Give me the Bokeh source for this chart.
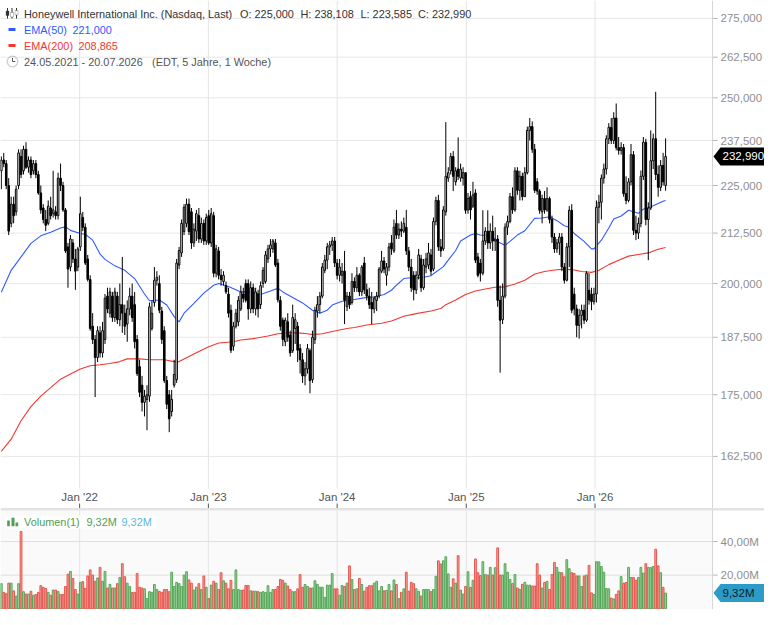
import math
import pandas as pd
from bokeh.plotting import figure
from bokeh.models import (Range1d, LinearScale, Label, BoxAnnotation, PolyAnnotation, Span,
                          ColumnDataSource)
from bokeh.embed import file_html
from bokeh.resources import INLINE

# ---------------------------------------------------------------- data
start_week = "2021-05-24"

opens = [
    229, 232, 231, 225, 215, 220, 218, 225, 233, 229,
    235, 230, 232, 229, 231, 228, 223, 219, 216, 215,
    219, 217.5, 218, 217, 227, 225, 218.5, 209, 204, 210,
    206, 204, 209, 216.5, 214, 206, 201, 190, 187, 183,
    188.5, 184, 187, 197, 193, 197, 192, 197, 191.5, 195,
    193, 190.5, 194, 197, 195, 187, 181, 177, 173.4, 174,
    174.7, 189.5, 195.5, 200.8, 200, 193.5, 189, 178, 175, 171.5,
    177, 178.2, 204.5, 207.5, 212.9, 215, 220, 218, 210, 213,
    217, 211, 215, 210.5, 217, 210, 217, 202.5, 208, 202,
    200.5, 199.5, 197.5, 193.7, 185.5, 190, 191, 194, 197.5, 200,
    200, 194, 199, 194, 197.5, 195, 200, 200.5, 206, 208.5,
    208.5, 210, 205, 196, 191.4, 186.5, 191, 188, 184.5, 189.5,
    190, 185, 182.5, 179, 180.5, 184.5, 178.2, 187, 193.5, 195,
    197, 203.2, 205.7, 209, 209.5, 210.5, 205, 202, 202, 203,
    194.5, 197, 195.5, 200.5, 199, 202, 198, 205, 198.5, 197,
    195.5, 194, 196, 197, 203, 205.5, 202, 204, 210, 208,
    215, 212, 213.5, 213, 214, 208, 204, 202, 198.5, 202,
    206, 199, 204, 204.5, 207, 203.5, 215.5, 221, 209, 208.5,
    218, 227, 229, 233, 226, 229.5, 227, 227, 228.5, 218.5,
    222, 219.5, 223, 206.5, 205, 202.5, 210.5, 213, 210, 213,
    210.5, 211, 196, 191.5, 197, 214, 215.5, 222, 218.5, 229,
    223.7, 227.5, 222, 228.5, 240.4, 241.5, 235, 226, 223.5, 218,
    221.5, 218.5, 221.5, 216, 211.5, 208.5, 210, 211.5, 204, 200.8,
    209, 218.4, 197.5, 194, 190.2, 192.5, 193.7, 191.4, 198.4, 197.5,
    195.7, 197.5, 219.2, 220.5, 227, 229.5, 238, 241.3, 237.5, 244,
    235.5, 234.7, 235.5, 222.8, 221, 226, 233.5, 213.2, 212.5, 215,
    227.5, 237, 216, 219, 231.8, 238, 228, 224.5, 230.5, 225.0,
]

highs = [
    233, 234, 232, 227, 222, 222, 225, 235, 235, 236,
    237, 233, 233, 232, 232, 229, 225, 220, 218.5, 221,
    222, 229, 219.5, 228.5, 231, 226, 219, 210, 212, 211,
    208.5, 209, 222, 218, 215, 207, 202, 193, 188, 190,
    190, 191, 197.5, 199, 199, 198, 199, 198, 200, 206.5,
    195, 196, 199, 200, 198, 188, 182.5, 179, 176, 177,
    195.5, 196, 204, 203, 202, 194.5, 190, 179, 176, 176,
    182.5, 206, 209, 216, 220, 221.5, 221.5, 219, 215, 218.5,
    219, 216.5, 216, 217.5, 218.5, 219, 218, 209.5, 209, 203.5,
    203, 200.5, 199, 195, 191, 194, 197, 199.5, 199, 201,
    201, 200.5, 200, 199, 198.5, 200.5, 204, 208, 209.5, 211,
    211, 211, 206, 197, 192, 192, 193, 189, 195, 193,
    191, 186, 184, 182, 186, 185, 189, 194.5, 197, 198,
    205, 207, 210, 210.5, 211.5, 211.5, 206, 206, 205, 208,
    198, 198, 202.5, 201.5, 204, 202.5, 204.5, 206.5, 200, 199,
    198, 197, 198, 204, 208, 206.5, 205, 210, 212, 216,
    218.5, 215, 215.5, 216.5, 218.5, 209, 206, 203, 203, 208.5,
    207, 206, 207.5, 210, 208.5, 216.5, 222, 222.5, 211, 219.5,
    242.8, 230, 234, 234.5, 230, 238.4, 231, 230, 228.5, 223,
    223.5, 226, 224, 207.5, 206, 218.4, 214, 218.4, 215, 217,
    214, 212, 199.5, 200, 215, 217, 223, 224.5, 230, 230,
    229, 228.5, 230, 241.5, 244, 243, 236.5, 227, 224, 222.5,
    223.5, 224.5, 222, 217, 212.5, 211, 212.5, 212.5, 205, 210,
    219.5, 220, 199, 195, 194, 195, 195, 203, 202.5, 199,
    199, 221, 222.5, 228, 231, 239, 242.5, 244, 245.7, 248.3,
    238.5, 237, 236.5, 227.5, 227, 236.5, 234.5, 217, 216.5, 229.1,
    238.5, 238, 220.5, 240.4, 239.5, 251.8, 230.5, 232, 234, 238.108,
]

lows = [
    224, 230, 224, 212, 214, 215, 217, 224, 227, 228,
    229.5, 228.5, 227, 228, 227, 222.5, 217.5, 215, 213, 214.5,
    216, 216.5, 216, 216, 223.5, 218, 207.5, 199, 203, 205,
    198.5, 203, 208, 213, 204.5, 200.5, 189, 186, 174.5, 182,
    183, 183, 186, 193, 192, 191, 191, 190.5, 190, 188.5,
    188, 186.5, 192.5, 191, 185, 179, 174.5, 171.5, 170.5, 167.7,
    173.5, 189, 194.5, 199.5, 193, 186, 177.5, 172, 167.3, 170.5,
    176.5, 177.5, 203.5, 206.5, 212, 214, 212, 208.5, 209, 210.5,
    210, 210, 209.5, 209.5, 209.5, 209, 201.5, 201.5, 201, 199.5,
    199.5, 197.5, 192, 184, 184.5, 189.5, 190, 193.5, 195.5, 195.5,
    191.5, 193, 193, 192.5, 192, 194, 199, 200, 205, 206.5,
    207.5, 204, 195.5, 189, 185.5, 185.5, 186.5, 183.2, 184, 186,
    182, 179.5, 177.5, 177, 179.5, 175.3, 177.5, 186, 192, 193,
    196.5, 202.5, 203.5, 207, 208, 204, 201, 200.5, 200, 190.5,
    193.5, 194, 195, 198, 198, 197, 197, 197.5, 196, 194,
    190.5, 193, 193.5, 196.5, 202.5, 202.5, 199.5, 203, 207, 207.5,
    211, 211, 211.5, 212.5, 207, 203, 198, 196, 197.5, 201,
    198, 198.5, 202.5, 203.5, 202, 203, 214.5, 208, 206.5, 208,
    217, 226, 228, 223.5, 225, 226.5, 226, 225, 217.5, 217.5,
    216, 219, 205, 201.5, 200.5, 202, 209.5, 208.5, 208.5, 208,
    208, 194.5, 179.7, 190.5, 196.5, 212, 215, 217.5, 218, 222.5,
    221, 221, 222, 228, 237.5, 234, 223, 222.5, 217.5, 215,
    217.5, 218, 215, 210, 207.5, 207.5, 207, 203, 200, 200.5,
    204, 193, 192.5, 187.5, 187.2, 189.5, 190.5, 191, 195, 193.7,
    195, 195.5, 215, 216, 225.5, 228, 236.5, 236.5, 236.5, 234.7,
    233.5, 233.5, 222, 220, 220.5, 225, 212, 210.7, 211, 214,
    226.5, 214.5, 205.7, 218.5, 229.5, 226.5, 222, 223.5, 225, 223.585,
]

closes = [
    232, 231, 225, 213, 220, 217, 224, 234, 228, 235,
    230, 232, 228, 231, 228, 223, 218.5, 216, 214.5, 219.5,
    217, 218.5, 217, 227, 225, 218.5, 208, 203.5, 211, 206,
    203, 208.5, 217.5, 214, 205, 201, 189.5, 187, 183, 189,
    184, 189, 196.5, 194, 198, 192, 198, 191.5, 195, 193,
    190, 194, 197, 192, 186.5, 179.5, 175.5, 173.4, 174.7, 175,
    194.5, 193, 200.8, 201.5, 193.7, 187, 178, 173, 170, 174,
    179.3, 205, 208.1, 215, 219.2, 220, 212.9, 210, 213.5, 217.5,
    211, 215, 210.5, 216.5, 210, 217.5, 202.5, 208.5, 202, 201,
    202, 198, 193, 184.6, 190, 193, 196, 198, 196.5, 196,
    194, 199, 194, 198, 194, 199.5, 203.2, 207, 208.5, 209.5,
    210.5, 204.5, 196.1, 190, 187, 191.4, 187.5, 184, 192, 191.5,
    184.6, 182.5, 179, 180.5, 185, 178, 187.5, 193.7, 195, 197,
    204, 205.7, 209, 209.5, 210.5, 205, 202, 204, 203, 196,
    197, 195, 200.5, 199, 202, 198, 204, 198.5, 197, 195,
    194, 196.5, 197, 203.5, 205.5, 203.5, 204, 209, 208.5, 214,
    212, 213.5, 213, 215, 208, 204, 199, 198.5, 202, 207,
    199, 204.5, 206, 207.5, 203, 215.5, 221, 209, 208, 218.5,
    227.5, 228.5, 233, 227.5, 229, 227.5, 229.5, 228.5, 218.4, 221.5,
    218.5, 222.5, 205.7, 202, 202.5, 210.5, 213, 210, 213, 210.5,
    211, 196, 191.4, 197, 214, 215.5, 222, 218.5, 229, 223.7,
    227.5, 222, 228.5, 240.4, 241.5, 235, 223.7, 223.5, 218.4, 221.5,
    218.5, 221.5, 216, 211.5, 208.5, 210, 211.5, 204, 200.8, 209,
    218.4, 193.7, 194, 190.2, 192.5, 193.7, 191.4, 202.5, 196.1, 195.7,
    197.5, 219.2, 220.5, 227, 229.5, 238, 241.3, 237.5, 244, 235.5,
    234.7, 235.5, 222.8, 221, 226, 233.5, 213.2, 212.5, 215, 227.5,
    237, 216, 219, 231.8, 238, 228, 224.5, 230.5, 226, 232.99,
]

# weekly volume in millions of shares
volumes_m = [
    14.9, 9.7, 8.9, 15.2, 15.2, 10.6, 7.5, 14.9, 46.0, 10.1,
    8.7, 8.7, 10.4, 8.0, 8.4, 9.7, 13.7, 12.7, 12.0, 9.7,
    8.0, 11.1, 11.1, 10.3, 8.5, 8.4, 13.2, 20.5, 22.2, 18.0,
    11.4, 8.7, 15.7, 16.1, 12.1, 19.5, 23.1, 20.0, 16.3, 18.3,
    24.6, 16.3, 22.2, 12.3, 14.5, 12.3, 12.3, 14.9, 18.6, 26.8,
    19.0, 15.2, 13.2, 9.7, 9.7, 20.9, 12.7, 12.3, 11.8, 6.0,
    10.1, 9.7, 14.4, 11.4, 10.3, 9.7, 11.4, 11.4, 10.1, 21.7,
    13.2, 15.7, 14.9, 13.2, 20.0, 22.0, 17.1, 15.2, 11.1, 12.8,
    14.9, 11.4, 19.5, 12.8, 6.0, 14.0, 16.3, 15.2, 11.4, 21.4,
    16.6, 15.2, 11.8, 16.9, 11.4, 23.1, 11.4, 10.9, 11.1, 13.8,
    13.8, 10.6, 10.4, 10.4, 10.1, 9.7, 10.1, 9.7, 13.7, 9.7,
    11.4, 11.4, 13.2, 17.4, 16.9, 15.2, 13.5, 11.4, 10.1, 10.1,
    11.8, 20.3, 12.7, 14.4, 13.2, 12.3, 12.3, 16.6, 14.5, 12.8,
    12.8, 6.7, 14.0, 14.0, 20.9, 11.8, 11.8, 8.0, 13.8, 13.2,
    15.2, 25.5, 17.4, 11.4, 11.8, 18.0, 14.4, 10.4, 12.7, 13.7,
    13.7, 15.2, 16.3, 10.6, 13.2, 10.6, 10.9, 14.4, 10.6, 17.1,
    14.4, 6.0, 9.7, 11.8, 21.7, 10.4, 15.7, 14.9, 11.8, 10.3,
    7.5, 11.4, 11.4, 11.4, 10.1, 11.4, 19.3, 28.5, 26.6, 28.5,
    30.9, 20.7, 12.7, 17.8, 15.2, 31.6, 11.1, 8.7, 13.2, 22.0,
    12.7, 16.9, 29.6, 21.4, 19.7, 28.0, 20.3, 20.0, 24.6, 20.0,
    24.4, 36.2, 20.0, 20.0, 26.8, 21.7, 17.4, 14.9, 20.3, 12.3,
    11.4, 14.5, 15.7, 14.0, 14.0, 13.5, 13.5, 26.8, 20.0, 12.3,
    15.6, 16.3, 11.4, 20.3, 27.5, 24.6, 21.7, 21.4, 19.0, 29.2,
    23.8, 21.4, 21.0, 19.5, 19.5, 13.2, 19.5, 20.0, 25.8, 9.4,
    8.5, 28.0, 27.9, 25.1, 21.7, 12.0, 11.8, 6.3, 5.8, 8.5,
    10.6, 19.1, 15.2, 15.6, 24.6, 18.6, 18.6, 16.9, 18.6, 24.6,
    21.2, 26.8, 24.6, 24.4, 25.1, 35.4, 25.5, 21.4, 12.7, 9.32,
]

# EMA lines (week index -> value)
ema50_weeks = [0, 4, 8, 12, 16, 20, 24, 26, 28, 32, 34, 37, 40, 42, 46, 50, 54, 58, 60, 64,
               67, 70, 72, 74, 78, 82, 86, 88, 92, 97, 101, 105, 109, 112, 114, 118, 122, 126, 129, 132,
               134, 138, 143, 148, 151, 155, 158, 160, 163, 166, 170, 174, 176, 179, 182, 184, 186, 190, 192, 194,
               198, 201, 204, 206, 209, 212, 216, 219, 222, 225, 228, 230, 232, 236, 239, 240, 243, 246, 248, 251,
               254, 258, 260, 264, 268, 269]
ema50_values = [197.9, 203.2, 206.5, 209.9, 211.8, 212.7, 213.8, 214.1, 213.2, 212.4,
                212.2, 210.7, 207.2, 205.9, 204.3, 203.2, 201.2, 197.5, 195.9, 196.1,
                194.9, 192.2, 191.0, 193.0, 195.3, 197.7, 199.6, 200.0, 199.3, 198.0,
                198.0, 197.4, 198.2, 198.9, 198.0, 196.7, 195.4, 193.7, 193.0, 193.7,
                194.9, 195.8, 196.2, 196.7, 196.8, 197.4, 198.4, 199.6, 201.2, 201.4,
                201.4, 201.9, 202.8, 204.1, 206.5, 208.1, 210.5, 212.0, 212.4, 212.0,
                211.7, 210.3, 209.4, 210.4, 212.0, 213.1, 216.3, 216.4, 216.7, 215.7,
                214.4, 214.0, 212.4, 210.4, 208.5, 208.5, 210.7, 213.8, 216.1, 216.9,
                218.4, 217.6, 218.7, 219.6, 220.8, 221.0]
ema200_weeks = [0, 4, 8, 12, 16, 20, 24, 28, 32, 36, 40, 44, 48, 51, 56, 60, 66, 70, 72, 76,
                80, 84, 88, 94, 97, 102, 108, 112, 116, 120, 124, 126, 130, 134, 140, 143, 148, 154, 158, 163,
                168, 174, 178, 180, 184, 188, 192, 196, 200, 204, 208, 212, 216, 220, 224, 228, 232, 235, 239, 242,
                246, 250, 254, 258, 262, 266, 269]
ema200_values = [163.5, 165.9, 169.6, 172.5, 174.7, 176.5, 178.3, 179.4, 180.5, 181.2,
                 181.4, 181.7, 182.1, 182.7, 182.7, 182.5, 182.5, 182.1, 182.1, 183.2,
                 184.3, 185.4, 186.2, 186.5, 186.9, 187.2, 187.8, 188.3, 188.5, 188.5,
                 188.3, 188.1, 188.3, 188.8, 189.5, 189.7, 190.3, 190.7, 191.2, 192.3,
                 192.9, 193.5, 194.1, 195.0, 196.1, 197.4, 198.2, 198.7, 199.1, 199.2,
                 199.9, 200.8, 202.3, 202.9, 203.3, 203.5, 203.3, 202.9, 202.7, 203.2,
                 204.6, 205.7, 206.7, 207.1, 207.5, 208.4, 208.865]

price_ticks = [162.5, 175, 187.5, 200, 212.5, 225, 237.5, 250, 262.5, 275]
price_tick_labels = ["162,500", "175,000", "187,500", "200,000", "212,500",
                     "225,000", "237,500", "250,000", "262,500", "275,000"]
volume_ticks = [20, 40]
volume_tick_labels = ["20,00M", "40,00M"]
year_ticks = ["2022-01-01", "2023-01-01", "2024-01-01", "2025-01-01", "2026-01-01"]
year_tick_labels = ["Jan '22", "Jan '23", "Jan '24", "Jan '25", "Jan '26"]

title_text = "Honeywell International Inc. (Nasdaq, Last)"
range_note = "(EDT, 5 Jahre, 1 Woche)"

# ---------------------------------------------------------------- layout
# One figure whose frame is the whole picture: price pane on top, date strip,
# volume pane at the bottom, value scales drawn in the right-hand strip.
FONT = "Liberation Sans"
W = 764          # total width
FW = 712         # width of the plotting area (scales to the right of it)
TOT = 609        # total height
VFH = 99         # volume pane height (bottom of the frame)

DAY_MS = 24 * 3600 * 1000


def ms(ts):
    return pd.Timestamp(ts).value / 1e6


x_start, x_plot_end = ms("2021-05-21 18:00"), ms("2026-11-30")
PX_MS = (x_plot_end - x_start) / FW
x_end = x_start + PX_MS * W
x_scale_edge = x_start + PX_MS * FW
price_lo, price_hi = 135.2, 281.0           # log scale over the full frame height
vol_lo, vol_span = -0.5, 59.0               # volume pane: -0.5 .. 58.5 over VFH px
VOL_PX = VFH / vol_span
vol_hi = vol_lo + TOT / VOL_PX


def de(v, d=3):
    return f"{v:.{d}f}".replace(".", ",")


def sy(r):                      # reference pixel row (price pane) -> screen y
    return TOT - r


def vsy(r):                     # reference pixel row (volume pane) -> screen y
    return VFH - (r - 510.0) * VFH / 115.0


def xpx(t):                     # datetime ms -> screen x
    return (t - x_start) / PX_MS


t0 = ms(start_week)
n = len(closes)
xs = [t0 + i * 7 * DAY_MS for i in range(n)]
up = [c >= o for o, c in zip(opens, closes)]
src = ColumnDataSource(dict(
    x=xs, high=highs, low=lows,
    top=[max(o, c) for o, c in zip(opens, closes)],
    bottom=[min(o, c) for o, c in zip(opens, closes)],
    fill=["white" if u else "black" for u in up],
    vol=volumes_m,
    vfill=["#a2d7a3" if u else "#f4a39e" for u in up],
    vline=["#55a557" if u else "#e5564d" for u in up],
))

year_ms = [ms(d) for d in year_ticks]

p = figure(width=W, height=TOT, x_axis_type="datetime", y_axis_type="log",
           x_range=Range1d(x_start, x_end), y_range=Range1d(price_lo, price_hi),
           x_axis_location=None, y_axis_location=None,
           toolbar_location=None, output_backend="svg",
           min_border_left=0, min_border_top=0, min_border_right=0, min_border_bottom=0,
           background_fill_color="white", border_fill_color="white", outline_line_color=None)
p.extra_y_ranges = {"vol": Range1d(vol_lo, vol_hi)}
p.extra_y_scales = {"vol": LinearScale()}
p.xgrid.visible = False
p.ygrid.visible = False


def text(x, y, s, color, size="10.9px", align="left"):
    p.add_layout(Label(x=x, y=y, x_units="screen", y_units="screen", text=s,
                       text_color=color, text_font=FONT, text_font_size=size,
                       text_baseline="middle", text_align=align))


def box(l, r, t, b, fill, line=None, level="annotation"):
    p.add_layout(BoxAnnotation(left=l, right=r, top=t, bottom=b,
                               left_units="screen", right_units="screen",
                               top_units="screen", bottom_units="screen",
                               fill_color=fill, fill_alpha=1,
                               line_color=line, line_width=1, level=level))


def tag(y, fill, label, label_color):
    p.add_layout(PolyAnnotation(xs=[FW + 1, FW + 8, W, W, FW + 8],
                                ys=[y, y + 9, y + 9, y - 9, y - 9],
                                xs_units="screen", ys_units="screen",
                                fill_color=fill, fill_alpha=1, line_color=None))
    text(FW + 10, y, label, label_color, size="11.5px")


# ---- backgrounds and grid lines (under the glyphs)
box(0, FW, VFH, 0, "#fafafa", level="underlay")
for t in year_ms:
    p.add_layout(Span(location=t, dimension="height", line_color="#e4e4e4",
                      line_width=1, level="underlay"))
for t in price_ticks:
    p.add_layout(Span(location=t, dimension="width", line_color="#e8e8e8",
                      line_width=1, level="underlay"))
for t in volume_ticks:
    p.add_layout(Span(location=t, dimension="width", y_range_name="vol",
                      line_color="#dedede", line_width=1, level="underlay"))
box(FW, W, TOT, 0, "white", level="underlay")

# ---- glyphs
EMA50_C = "#2f5bff"
EMA200_C = "#f2382f"
p.line([t0 + w * 7 * DAY_MS for w in ema200_weeks], ema200_values, line_color=EMA200_C, line_width=1.1)
p.line([t0 + w * 7 * DAY_MS for w in ema50_weeks], ema50_values, line_color=EMA50_C, line_width=1.1)
p.segment(x0="x", y0="low", x1="x", y1="high", source=src, line_color="black", line_width=1)
p.vbar(x="x", width=4.5 * DAY_MS, top="top", bottom="bottom", source=src,
       fill_color="fill", line_color="black", line_width=1)
p.vbar(x="x", width=5 * DAY_MS, top="vol", bottom=0, source=src, y_range_name="vol",
       fill_color="vfill", line_color="vline", line_width=1)

# ---- right-hand scales (tick marks through the figure's own scales)
p.segment(x0=[x_scale_edge] * len(price_ticks), x1=[x_scale_edge + 5 * PX_MS] * len(price_ticks),
          y0=price_ticks, y1=price_ticks, line_color="#b5b5b5", line_width=1)
p.segment(x0=[x_scale_edge] * len(volume_ticks), x1=[x_scale_edge + 5 * PX_MS] * len(volume_ticks),
          y0=volume_ticks, y1=volume_ticks, y_range_name="vol", line_color="#b5b5b5", line_width=1)
box(FW - 0.5, FW + 0.5, TOT, 0, "#d6d6d6")
for t, lab in zip(price_ticks, price_tick_labels):
    p.add_layout(Label(x=FW + 8, y=t, x_units="screen", y_units="data", text=lab,
                       text_color="#8f8f8f", text_font=FONT, text_font_size="11.5px",
                       text_baseline="middle", text_align="left"))
for t, lab in zip(volume_ticks, volume_tick_labels):
    p.add_layout(Label(x=FW + 8, y=t, x_units="screen", y_units="data", y_range_name="vol",
                       text=lab, text_color="#8f8f8f", text_font=FONT, text_font_size="11.5px",
                       text_baseline="middle", text_align="left"))

# ---- date strip between the panes
box(0, FW - 0.5, sy(488), VFH, "white")
for t, lab in zip(year_ms, year_tick_labels):
    text(xpx(t), sy(496), lab, "#555555", size="11.5px", align="center")
    box(xpx(t) - 0.5, xpx(t) + 0.5, sy(503), sy(507.5), "#555555")
box(0, W, sy(507.5), VFH, "#e2e2e2")

# ---- value tags
tag(TOT * math.log(closes[-1] / price_lo) / math.log(price_hi / price_lo),
    "black", de(closes[-1]), "white")
tag((volumes_m[-1] - vol_lo) * VOL_PX, "#2c9bc8", de(volumes_m[-1], 2) + "M", "#0f1e29")

# ---- header with candle icon
for wx in (7.0, 11.5, 16.0):
    box(wx - 0.5, wx + 0.5, sy(7.5), sy(18), "#333333")
box(5.5, 8.5, sy(10.5), sy(15), "#333333", "#333333")
box(10, 13, sy(12), sy(16.5), "white", "#333333")
box(14.5, 17.5, sy(10), sy(14.5), "white", "#333333")
text(23.5, sy(13), title_text, "#333333")
text(239.5, sy(13), "O: " + de(opens[-1]), "#333333")
text(300, sy(13), "H: " + de(highs[-1]), "#333333")
text(360, sy(13), "L: " + de(lows[-1]), "#333333")
text(417.5, sy(13), "C: " + de(closes[-1]), "#333333")

box(8, 15, sy(27.5), sy(30.5), EMA50_C)
text(23.5, sy(29), "EMA(50)", EMA50_C)
text(72, sy(29), de(ema50_values[-1]), EMA50_C)
box(8, 15, sy(43.5), sy(46.5), EMA200_C)
text(23.5, sy(45), "EMA(200)", EMA200_C)
text(78, sy(45), de(ema200_values[-1]), EMA200_C)

cx, cy, rr = 12.0, sy(61), 5.3
p.add_layout(PolyAnnotation(xs=[cx + rr * math.cos(2 * math.pi * k / 24) for k in range(24)],
                            ys=[cy + rr * math.sin(2 * math.pi * k / 24) for k in range(24)],
                            xs_units="screen", ys_units="screen", fill_color=None,
                            line_color="#555555", line_width=1.2))
box(cx - 0.5, cx + 0.5, cy + 3.5, cy, "#555555")
box(cx, cx + 2.8, cy + 0.5, cy - 0.5, "#555555")
first_day = pd.Timestamp(start_week)
last_day = first_day + pd.Timedelta(days=7 * (n - 1))
text(23.5, sy(61), first_day.strftime("%d.%m.%Y") + " - " + last_day.strftime("%d.%m.%Y"), "#555555")
text(151.5, sy(61), range_note, "#555555")

# ---- volume legend
box(5, 157, vsy(516), vsy(531), "white")
VG = "#4f9e52"
box(6.7, 9.3, vsy(521.5), vsy(528.3), VG)
box(11, 14, vsy(518.5), vsy(528.3), VG)
box(15, 17.7, vsy(524), vsy(528.3), VG)
text(23.5, vsy(523.5), "Volumen(1)", VG)
text(86, vsy(523.5), de(volumes_m[-1], 2) + "M", VG)
text(121, vsy(523.5), de(volumes_m[-1], 2) + "M", "#5bb6da")

open("out.html", "w").write(file_html(p, INLINE))
